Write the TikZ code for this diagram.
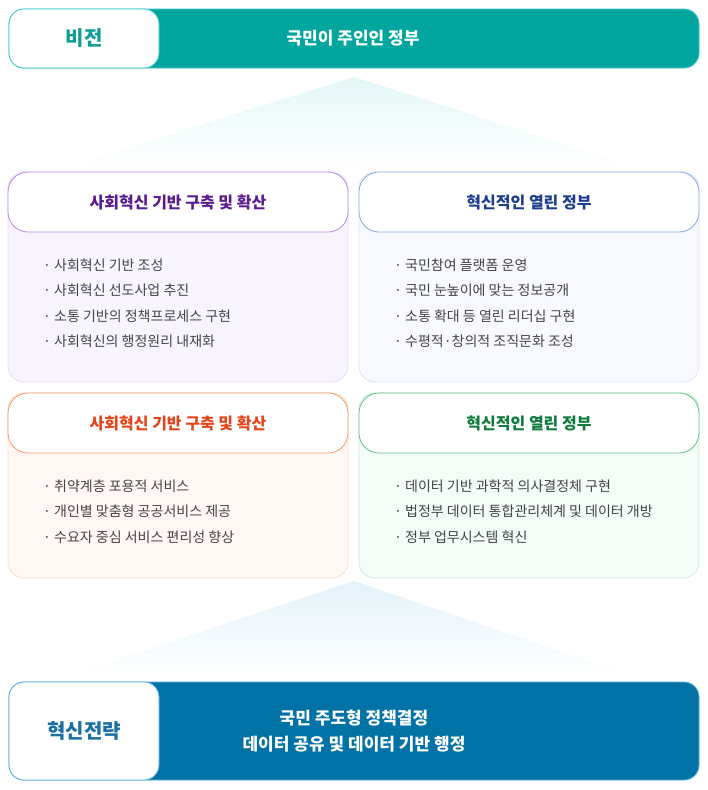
\documentclass[tikz,border=0pt]{standalone}
\usepackage{fontspec}
\setmainfont{Noto Sans CJK KR}
\usetikzlibrary{positioning}

\definecolor{visionfill}{HTML}{00A69E}
\definecolor{visionedge}{HTML}{3CC8C8}
\definecolor{visionink}{HTML}{0E9E96}
\definecolor{stratfill}{HTML}{0072A6}
\definecolor{stratedge}{HTML}{55B0E0}
\definecolor{stratink}{HTML}{1A6FA3}
\definecolor{purpleedge}{HTML}{BA88E4}
\definecolor{purpleink}{HTML}{5A1B8F}
\definecolor{purplebody}{HTML}{F8F4FE}
\definecolor{purpleline}{HTML}{EADCF8}
\definecolor{blueedge}{HTML}{86AAE8}
\definecolor{blueink}{HTML}{1C3E8C}
\definecolor{bluebody}{HTML}{F7F9FE}
\definecolor{blueline}{HTML}{DDE6F8}
\definecolor{orangeedge}{HTML}{F59B63}
\definecolor{orangeink}{HTML}{E5431A}
\definecolor{orangebody}{HTML}{FFF7F3}
\definecolor{orangeline}{HTML}{FBDCCB}
\definecolor{greenedge}{HTML}{62C08A}
\definecolor{greenink}{HTML}{0E7A3C}
\definecolor{greenbody}{HTML}{F3FCF6}
\definecolor{greenline}{HTML}{CDEFD8}
\definecolor{itemgray}{HTML}{444444}

\begin{document}
\begin{tikzpicture}[x=1pt,y=-1pt,
        bar/.style={rectangle,rounded corners=15pt,minimum width=690pt,minimum height=59pt,inner sep=0pt,line width=0.8pt},
        tag/.style={rectangle,rounded corners=15pt,fill=white,minimum width=150pt,minimum height=59pt,inner sep=0pt,line width=0.8pt,
            font=\fontsize{20}{22}\selectfont\bfseries},
        bartext/.style={text=white,font=\fontsize{17}{26}\selectfont\bfseries,align=center,inner sep=0pt},
        body/.style={rectangle,rounded corners=16pt,minimum width=340pt,inner sep=0pt,line width=0.8pt},
        head/.style={rectangle,rounded corners=20pt,fill=white,minimum width=340pt,minimum height=60pt,inner sep=0pt,line width=0.8pt,
            font=\fontsize{16}{18}\selectfont\bfseries},
        item/.style={anchor=west,inner sep=0pt,text=itemgray,text height=10pt,text depth=3pt,
            font=\fontsize{14}{16}\selectfont},
        next/.style={below=12pt of #1.south west,anchor=north west}]
        % background of the page
        \useasboundingbox (0,0) rectangle (708,790);

        % fans between the bars and the boxes
        \shade[top color=visionedge!14,bottom color=white] (354,77) -- (640,168) -- (62,168) -- cycle;
        \shade[top color=stratedge!16,bottom color=white] (354,581) -- (640,678) -- (62,678) -- cycle;

        % vision bar on top
        \node[bar,fill=visionfill,draw=visionedge] (vision) at (354,38.5) {};
        \node[tag,draw=visionedge,text=visionink] (visiontag) at (84,38.5) {비전};
        \node[bartext] (visiontext) at (353,38) {국민이 주인인 정부};

        % upper left box
        \node[body,fill=purplebody,draw=purpleline,minimum height=210pt] (boxa) at (178,277) {};
        \node[head,draw=purpleedge,text=purpleink] (heada) at (178,202) {사회혁신 기반 구축 및 확산};
        \node[item] (a1) at (43,267) {· 사회혁신 기반 조성};
        \node[item,next=a1] (a2) {· 사회혁신 선도사업 추진};
        \node[item,next=a2] (a3) {· 소통 기반의 정책프로세스 구현};
        \node[item,next=a3] (a4) {· 사회혁신의 행정원리 내재화};

        % upper right box
        \node[body,fill=bluebody,draw=blueline,minimum height=210pt] (boxb) at (529,277) {};
        \node[head,draw=blueedge,text=blueink] (headb) at (529,202) {혁신적인 열린 정부};
        \node[item] (b1) at (394,267) {· 국민참여 플랫폼 운영};
        \node[item,next=b1] (b2) {· 국민 눈높이에 맞는 정보공개};
        \node[item,next=b2] (b3) {· 소통 확대 등 열린 리더십 구현};
        \node[item,next=b3] (b4) {· 수평적·창의적 조직문화 조성};

        % lower left box
        \node[body,fill=orangebody,draw=orangeline,minimum height=185pt] (boxc) at (178,485.5) {};
        \node[head,draw=orangeedge,text=orangeink] (headc) at (178,423) {사회혁신 기반 구축 및 확산};
        \node[item] (c1) at (43,488) {· 취약계층 포용적 서비스};
        \node[item,next=c1] (c2) {· 개인별 맞춤형 공공서비스 제공};
        \node[item,next=c2] (c3) {· 수요자 중심 서비스 편리성 향상};

        % lower right box
        \node[body,fill=greenbody,draw=greenline,minimum height=185pt] (boxd) at (529,485.5) {};
        \node[head,draw=greenedge,text=greenink] (headd) at (529,423) {혁신적인 열린 정부};
        \node[item] (d1) at (394,488) {· 데이터 기반 과학적 의사결정체 구현};
        \node[item,next=d1] (d2) {· 법정부 데이터 통합관리체계 및 데이터 개방};
        \node[item,next=d2] (d3) {· 정부 업무시스템 혁신};

        % strategy bar at the bottom
        \node[bar,fill=stratfill,draw=stratedge,minimum height=98pt] (strategy) at (354,731) {};
        \node[tag,draw=stratedge,text=stratink,minimum height=98pt] (strategytag) at (84,731) {혁신전략};
        \node[bartext] (strategytext) at (354,731.5) {국민 주도형 정책결정\\데이터 공유 및 데이터 기반 행정};
    \end{tikzpicture}
\end{document}
